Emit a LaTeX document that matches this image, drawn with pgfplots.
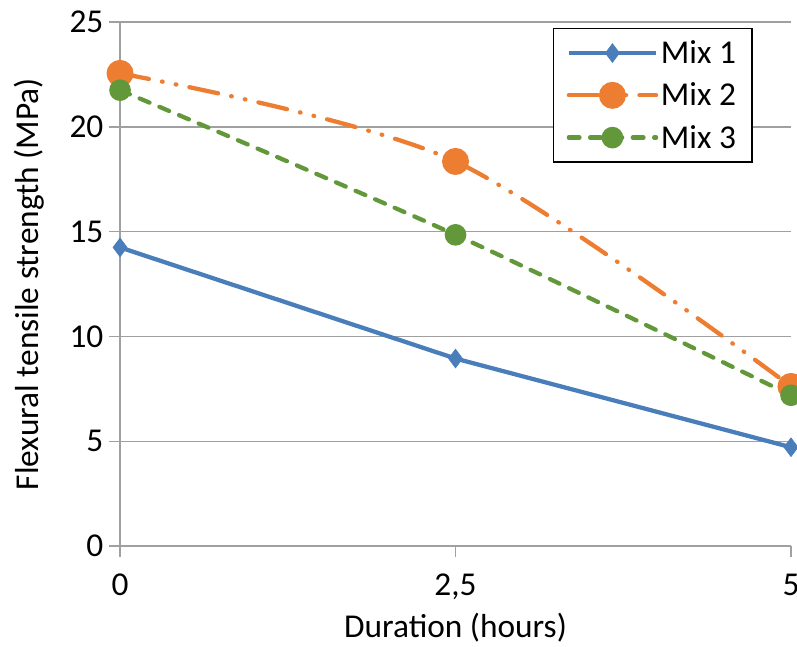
\documentclass[border=0pt]{standalone}
\usepackage{pgfplots}
\pgfplotsset{compat=1.18}
\usepackage{fontspec}
\setmainfont{Carlito}
\usetikzlibrary{calc}
\definecolor{c1}{RGB}{74,126,187}
\definecolor{c2}{RGB}{237,125,49}
\definecolor{c3}{RGB}{98,152,58}
\definecolor{gridc}{RGB}{160,160,160}
\begin{document}
\begin{tikzpicture}
\begin{axis}[
  width=503pt, height=393pt, scale only axis,
  xmin=0, xmax=5, ymin=0, ymax=25,
  xtick={0,2.5,5}, xticklabels={0,{2,5},5},
  ytick={0,5,10,15,20,25},
  axis lines=left,
  axis line style={draw=gridc, line width=1.2pt, -},
  ymajorgrids, grid style={gridc, line width=1.2pt},
  tick style={gridc, line width=1.2pt},
  major tick length=8pt,
  tick align=outside,
  font=\fontsize{25}{30}\selectfont,
  ticklabel style={font=\fontsize{25}{30}\selectfont},
  /pgf/number format/assume math mode=true,
  xticklabel style={yshift=-9pt},
  yticklabel style={xshift=-1pt},
  xlabel={Duration (hours)},
  ylabel={Flexural tensile strength (MPa)},
  xlabel style={yshift=-3.5pt},
  ylabel style={yshift=12pt},
  clip=false,
  legend style={at={(0.943,0.989)}, anchor=north east, draw=black, line width=1.2pt,
    font=\fontsize{25}{30}\selectfont, row sep=9pt, inner xsep=10pt, inner ysep=7pt},
  legend cell align=left,
  legend image code/.code={\draw[mark repeat=2,mark phase=2,#1] plot coordinates {(0cm,0cm) (1.15cm,0cm) (2.3cm,0cm)};},
]
\addplot[c1, line width=3.2pt, mark=diamond*, mark size=7pt, mark options={solid, fill=c1, line width=0.5pt}]
  coordinates {(0,14.25) (2.5,8.95) (5,4.72)};
\addlegendentry{Mix 1}
\addplot[c2, line width=3.2pt, smooth, line cap=round, dash pattern=on 22pt off 10pt on 0.5pt off 10pt on 0.5pt off 10pt,
  mark=*, mark size=8.5pt, mark options={solid, fill=c2, draw=c2}]
  coordinates {(0,22.55) (2.5,18.35) (5,7.62)};
\addlegendentry{Mix 2}
\addplot[c3, line width=3.2pt, smooth, line cap=round, dash pattern=on 8pt off 8pt,
  mark=*, mark size=6.5pt, mark options={solid, fill=c3, draw=c3}]
  coordinates {(0,21.75) (2.5,14.85) (5,7.2)};
\addlegendentry{Mix 3}
\end{axis}
\pgfresetboundingbox
\path ($(current axis.south west)+(-90pt,-75pt)$) rectangle ($(current axis.north east)+(4.5pt,16.5pt)$);
\end{tikzpicture}
\end{document}
